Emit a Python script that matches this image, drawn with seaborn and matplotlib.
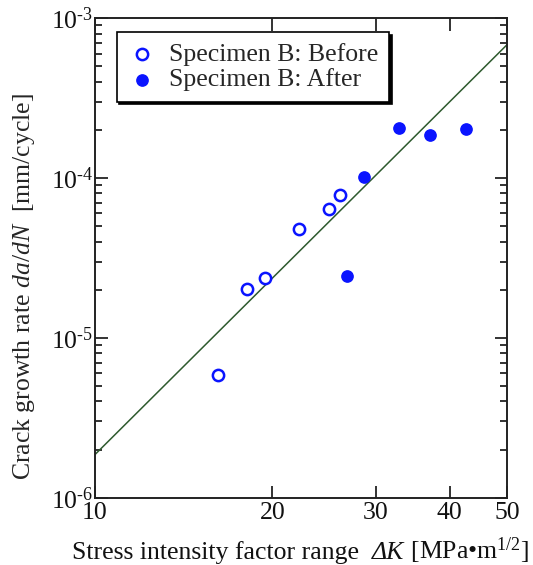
import numpy as np
import pandas as pd
import matplotlib
matplotlib.use("Agg")
import matplotlib.pyplot as plt
import matplotlib.ticker as mticker
from matplotlib.offsetbox import TextArea, HPacker, AnchoredOffsetbox
import seaborn as sns

# data
before_dk = [16.2, 18.1, 19.4, 22.2, 25.0, 26.1]
before_rate = [5.9e-6, 2.02e-5, 2.38e-5, 4.8e-5, 6.4e-5, 7.8e-5]
after_dk = [26.8, 28.6, 32.8, 37.1, 42.6]
after_rate = [2.45e-5, 1.01e-4, 2.06e-4, 1.87e-4, 2.03e-4]
fit_dk = [10, 50]
fit_rate = [1.86e-6, 6.8e-4]
x_ticks = [10, 20, 30, 40, 50]

sns.set_style("ticks")
plt.rcParams['font.family'] = ['Liberation Serif', 'DejaVu Serif']
plt.rcParams['mathtext.fontset'] = 'custom'
plt.rcParams['mathtext.rm'] = 'Liberation Serif'
plt.rcParams['mathtext.it'] = 'Liberation Serif:italic'

df = pd.DataFrame({
    'dk': before_dk + after_dk,
    'rate': before_rate + after_rate,
    'group': ['Specimen B: Before'] * len(before_dk) + ['Specimen B: After'] * len(after_dk),
})
fit = pd.DataFrame({'dk': fit_dk, 'rate': fit_rate})

fig = plt.figure(figsize=(5.33, 5.65), dpi=100)
ax = fig.add_axes([0.178, 0.119, 0.773, 0.849])

sns.lineplot(data=fit, x='dk', y='rate', color='#2e5a2e', linewidth=1.1, ax=ax, legend=False)

bdf = df[df['group'] == 'Specimen B: Before']
adf = df[df['group'] == 'Specimen B: After']
ax.scatter(bdf['dk'], bdf['rate'], s=66, facecolors='white', edgecolors='#0a14ff',
           linewidths=1.8, label='Specimen B: Before', zorder=3)
ax.scatter(adf['dk'], adf['rate'], s=66, color='#0a14ff', edgecolors='#0a14ff',
           label='Specimen B: After', zorder=3)

ax.set_xscale('log')
ax.set_yscale('log')
ax.set_xlim(10, 50)
ax.set_ylim(1e-6, 1e-3)


def pow_label(v, pos):
    e = int(round(np.log10(v)))
    return r'$10^{\text{-}%d}$' % (-e)


ax.xaxis.set_major_locator(mticker.FixedLocator(x_ticks))
ax.xaxis.set_major_formatter(mticker.FixedFormatter([str(t) for t in x_ticks]))
ax.xaxis.set_minor_locator(mticker.NullLocator())
ax.yaxis.set_major_locator(mticker.LogLocator(base=10))
ax.yaxis.set_major_formatter(mticker.FuncFormatter(pow_label))
ax.yaxis.set_minor_locator(mticker.LogLocator(base=10, subs=np.arange(2, 10)))
ax.yaxis.set_minor_formatter(mticker.NullFormatter())

ax.tick_params(which='both', direction='in', top=True, right=True, width=1.2,
               labelsize=18.5, colors='#111111')
ax.tick_params(which='major', length=9)
ax.tick_params(which='minor', length=5)
ax.tick_params(axis='y', which='major', pad=1)
ax.tick_params(axis='x', which='major', pad=3)
for s in ax.spines.values():
    s.set_linewidth(1.4)
    s.set_color('#222222')

# x label with italic Delta K, built from pieces
ax.set_xlabel('')
tp = dict(fontsize=18.5, color='#111111')
xlab = HPacker(children=[
    TextArea('Stress intensity factor range  ', textprops=tp),
    TextArea('ΔK', textprops=dict(tp, fontstyle='italic')),
    TextArea(r' [MPa•m$^{1/2}$]', textprops=tp),
], align='baseline', pad=0, sep=0)
ab = AnchoredOffsetbox(loc='center', child=xlab, frameon=False, pad=0, borderpad=0,
                       bbox_to_anchor=(0.5, -0.11), bbox_transform=ax.transAxes)
ax.add_artist(ab)

ax.set_ylabel(r'Crack growth rate $\mathit{da/dN}$  [mm/cycle]', fontsize=18.5)
ax.yaxis.set_label_coords(-0.141, 0.44)

leg = ax.legend(loc='upper left', bbox_to_anchor=(0.053, 0.97), fontsize=18.5,
                frameon=True, fancybox=False, shadow={'color': 'black', 'alpha': 1},
                handletextpad=0.45, borderpad=0.4, labelspacing=0.1,
                handlelength=1.2, borderaxespad=0)
leg.get_frame().set_edgecolor('black')
leg.get_frame().set_linewidth(1.2)
leg.get_frame().set_alpha(1)

fig.savefig('out.png', dpi=100)
